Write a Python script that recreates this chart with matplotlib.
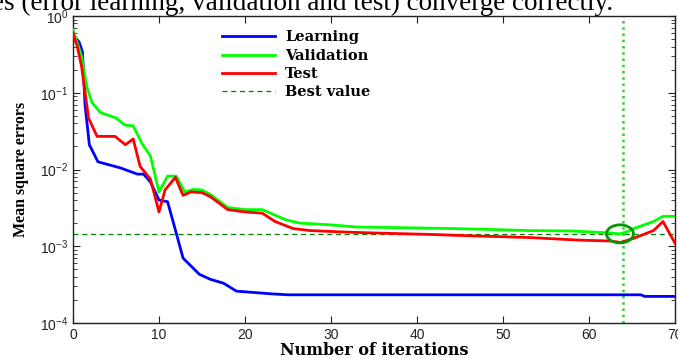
import matplotlib
matplotlib.use("Agg")
import matplotlib.pyplot as plt
from matplotlib.patches import Ellipse
import numpy as np

# ---- data ----
learn_x = [0, 0.7, 1.1, 1.4, 1.9, 2.9, 5.5, 7.5, 8.2, 9, 10, 11, 11.8, 12.8, 14.7, 16, 17.5, 19, 21, 23, 25, 66, 66.5, 70]
learn_y = [0.56, 0.46, 0.34, 0.07, 0.021, 0.0126, 0.0105, 0.0087, 0.0087, 0.0069, 0.004, 0.0038, 0.0018, 7e-4,
           4.3e-4, 3.7e-4, 3.3e-4, 2.6e-4, 2.5e-4, 2.4e-4, 2.33e-4, 2.33e-4, 2.22e-4, 2.22e-4]

valid_x = [0, 1, 1.6, 2.2, 3.2, 5, 6, 7, 8, 9, 10, 11, 12, 13, 14, 15, 16, 18, 20, 22, 24.8, 26.4, 30, 33, 39, 44,
           48, 53, 58, 62, 63.6, 64.6, 65.2, 67.5, 68.6, 70]
valid_y = [0.66, 0.3, 0.12, 0.075, 0.055, 0.047, 0.038, 0.037, 0.022, 0.015, 0.0051, 0.0082, 0.0082, 0.0051, 0.0055,
           0.0054, 0.0047, 0.0032, 0.003, 0.003, 0.0022, 0.002, 0.0019, 0.00178, 0.00174, 0.0017, 0.00166, 0.0016,
           0.00158, 0.0015, 0.00145, 0.00157, 0.0017, 0.0021, 0.00245, 0.00245]

test_x = [0, 0.5, 1, 1.8, 2.8, 4.9, 6.1, 7, 7.8, 9, 10, 10.7, 11.9, 12.8, 13.7, 15, 16, 18, 20, 22, 23.5, 25.6, 27.6,
          31, 34, 38, 42, 46, 49, 53, 59, 62.5, 63.7, 65.2, 67.5, 68.6, 70]
test_y = [0.6, 0.4, 0.22, 0.047, 0.027, 0.027, 0.021, 0.025, 0.011, 0.0075, 0.0028, 0.0054, 0.0079, 0.0046, 0.0051,
          0.005, 0.0044, 0.003, 0.0028, 0.0027, 0.0021, 0.0017, 0.0016, 0.00154, 0.0015, 0.00146, 0.00142, 0.00137,
          0.00134, 0.0013, 0.0012, 0.00117, 0.00112, 0.00127, 0.0016, 0.0021, 0.0011]

best_value = 1.45e-3
best_iter = 64
circle_iter = 63.6

x_ticks = [0, 10, 20, 30, 40, 50, 60, 70]

W, H = 678, 358
fig = plt.figure(figsize=(W / 100, H / 100), dpi=100)
ax = fig.add_axes([73 / W, 1 - 323 / H, (675 - 73) / W, (323 - 16) / H])

ax.plot(learn_x, learn_y, color="#0000ff", lw=2, label="Learning", zorder=3)
ax.plot(valid_x, valid_y, color="#00ff00", lw=2, label="Validation", zorder=3)
ax.plot(test_x, test_y, color="#ff0000", lw=2, label="Test", zorder=4)
ax.axhline(best_value, color="#008000", lw=0.9, ls=(0, (4, 3)), label="Best value", zorder=2)
ax.axvline(best_iter, color="#33cc33", lw=1.8, ls=(0, (1, 1.5)), zorder=2)

ax.set_yscale("log")
ax.set_xlim(0, 70)
ax.set_ylim(1e-4, 1)
ax.set_xticks(x_ticks)
ax.tick_params(which="both", direction="in", top=True, right=True, colors="#222222", labelsize=10)
ax.tick_params(which="major", length=5)
ax.tick_params(which="minor", length=3)
for lab in ax.get_xticklabels() + ax.get_yticklabels():
    lab.set_family("Liberation Sans")
for s in ax.spines.values():
    s.set_linewidth(1)
    s.set_color("#222222")

# ellipse around best point (display-size ellipse)
fig.canvas.draw()
cx, cy = ax.transData.transform((circle_iter, best_value))
ax_cx, ax_cy = ax.transAxes.inverted().transform((cx, cy))
bbox = ax.get_window_extent()
ell = Ellipse((ax_cx, ax_cy), width=27 / bbox.width, height=18 / bbox.height, transform=ax.transAxes,
              fill=False, edgecolor="#009900", lw=2, zorder=5)
ax.add_patch(ell)

leg = ax.legend(loc="upper left", bbox_to_anchor=(215 / W, 1 - 23 / H), bbox_transform=fig.transFigure,
                frameon=False, handlelength=3.6, handletextpad=0.7, labelspacing=0.3, borderpad=0,
                prop={"family": "DejaVu Serif", "weight": "bold", "size": 10.5})

ax.set_xlabel("Number of iterations", family="DejaVu Serif", weight="bold", fontsize=11.5, labelpad=0)
ax.set_ylabel("Mean square errors", family="Liberation Serif", weight="bold", fontsize=11.5, labelpad=8)

fig.text(-8 / W, 1 - 10 / H, "es (error learning, validation and test) converge correctly.",
         family="Liberation Serif", fontsize=19.5, va="baseline", ha="left")

fig.savefig("out.png", dpi=100)
